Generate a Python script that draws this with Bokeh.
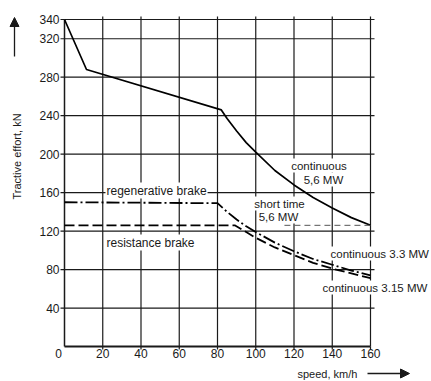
import math
from bokeh.plotting import figure
from bokeh.models import Range1d, Label, Arrow, NormalHead
from bokeh.core.properties import value
from bokeh.embed import file_html
from bokeh.resources import INLINE

# ---- data ----
main_speed = [0, 11.5, 82, 85, 90, 95, 100, 110, 120, 130, 140, 150, 160]
main_force = [340, 288, 246, 237, 224, 212, 202, 183, 168, 155, 144, 134, 126]

regen_speed = [0, 80, 85, 90, 95, 100, 110, 120, 130, 140, 150, 160]
regen_force = [150, 149, 140, 132, 125, 119, 108, 99, 91, 85, 79, 74]

resist_speed = [0, 89, 95, 100, 110, 120, 130, 140, 150, 160]
resist_force = [126, 126, 119, 113, 103, 95, 87, 81, 76, 71]

limit_speed = [115, 160]
limit_force = [126, 126]

x_ticks = [20, 40, 60, 80, 100, 120, 140, 160]
x_tick_labels = ["20", "40", "60", "80", "100", "120", "140", "160"]
y_ticks = [40, 80, 120, 160, 200, 240, 280, 320, 340]
y_tick_labels = ["40", "80", "120", "160", "200", "240", "280", "320", "340"]
X_MAX = 160
Y_MAX = 340

FONT = "Liberation Sans"
INK = "#1a1a1a"

W, H = 431, 381
# pixel layout of the plot frame inside the canvas
FL, FR, FT, FB = 64, 370, 19, 346
kx = X_MAX / (FR - FL)      # data per pixel (x)
ky = Y_MAX / (FB - FT)      # data per pixel (y)
def X(sx):
    return (sx - FL) * kx
def Y(sy):
    return (FB - sy) * ky

p = figure(width=W, height=H,
           x_range=Range1d(X(0), X(W)), y_range=Range1d(Y(H), Y(0)),
           output_backend="svg", toolbar_location=None,
           min_border=0, x_axis_type=None, y_axis_type=None)
p.grid.visible = False
p.outline_line_color = None
p.background_fill_color = "white"
p.border_fill_color = "white"

n_x = len(x_ticks)
n_y = len(y_ticks)

# grid (vertical lines at x ticks, horizontal at y ticks), with small outward ticks
p.segment(x0=x_ticks, y0=[0] * n_x, x1=x_ticks, y1=[Y_MAX + 3 * ky] * n_x,
          line_color=INK, line_width=1.2)
p.segment(x0=[0] * n_y, y0=y_ticks, x1=[X_MAX + 4 * kx] * n_y, y1=y_ticks,
          line_color=INK, line_width=1.2)
# axis ticks
p.segment(x0=[-4 * kx] * n_y, y0=y_ticks, x1=[0] * n_y, y1=y_ticks,
          line_color=INK, line_width=1.2)
p.segment(x0=x_ticks, y0=[0] * n_x, x1=x_ticks, y1=[-3 * ky] * n_x,
          line_color=INK, line_width=1.2)
# axis lines
p.segment(x0=[0], y0=[0], x1=[0], y1=[Y_MAX], line_color=INK, line_width=1.5)
p.segment(x0=[0], y0=[0], x1=[X_MAX], y1=[0], line_color=INK, line_width=1.8)

# tick labels
p.text(x=[-5 * kx] * n_y, y=y_ticks, text=y_tick_labels, text_font=value(FONT),
       text_font_size="12px", text_color=INK, text_align="right", text_baseline="middle")
p.text(x=x_ticks, y=[Y(353)] * n_x, text=x_tick_labels, text_font=value(FONT),
       text_font_size="12px", text_color=INK, text_align="center", text_baseline="middle")
p.text(x=[X(58)], y=[Y(353)], text=["0"], text_font=value(FONT),
       text_font_size="12px", text_color=INK, text_align="center", text_baseline="middle")

# curves
p.line(main_speed, main_force, line_color="black", line_width=1.7)
p.line(regen_speed, regen_force, line_color="black", line_width=1.8, line_dash="13 3 2 3")
p.line(resist_speed, resist_force, line_color="black", line_width=1.8, line_dash="10 4")
p.line(limit_speed, limit_force, line_color="#555555", line_width=1.0, line_dash="6 4")

def lab(sx, sy, t, size="11.5px", align="left", angle=0.0, bg=True):
    l = Label(x=X(sx), y=Y(sy), text=t, text_font=FONT, text_font_size=size, text_color=INK,
              text_align=align, text_baseline="middle", angle=angle)
    if bg:
        l.background_fill_color = "white"
        l.padding = 1
    p.add_layout(l)

lab(105, 190, "regenerative brake", size="12px")
lab(105, 242, "resistance brake", size="12px")
lab(279, 203, "short time", align="center")
lab(278, 216, "5,6 MW", align="center")
lab(318.5, 165, "continuous", align="center")
lab(323, 179, "5,6 MW", align="center")
lab(329, 253, "continuous 3.3 MW")
lab(321, 287, "continuous 3.15 MW")

# axis titles with arrows
lab(16.5, 156, "Tractive effort, kN", size="11px", align="center", angle=math.pi / 2, bg=False)
lab(297, 373, "speed, km/h", size="11px", bg=False)

p.add_layout(Arrow(x_start=X(14), y_start=Y(56), x_end=X(14), y_end=Y(17),
                   line_color=INK, line_width=1.3,
                   end=NormalHead(size=9, fill_color=INK, line_color=INK)))
p.add_layout(Arrow(x_start=X(367), y_start=Y(373), x_end=X(409), y_end=Y(373),
                   line_color=INK, line_width=1.3,
                   end=NormalHead(size=9, fill_color=INK, line_color=INK)))

open("out.html", "w").write(file_html(p, INLINE))
